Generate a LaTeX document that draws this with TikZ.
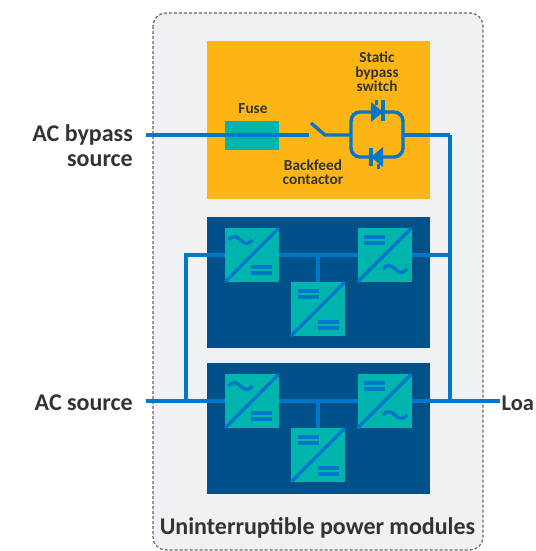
\documentclass[tikz,border=0pt]{standalone}
\usepackage{fontspec}
\setmainfont{Carlito}
\definecolor{panelgray}{HTML}{F0F1F4}
\definecolor{bypassyellow}{HTML}{FDB515}
\definecolor{moduleblue}{HTML}{00508A}
\definecolor{convteal}{HTML}{00B5AD}
\definecolor{wireblue}{HTML}{0077C8}
\definecolor{labeldark}{HTML}{333333}
\newcommand{\acsym}[2]{\draw[symbol,shift={(#1,#2)}] (-12,0) .. controls (-8,-5) and (-4,-4) .. (0,0) .. controls (4,4) and (8,5) .. (12,0);}
\newcommand{\dcsym}[2]{\draw[bar] (#1-10.5,#2-3) -- (#1+10.5,#2-3); \draw[bar] (#1-10.5,#2+3) -- (#1+10.5,#2+3);}
\tikzset{
  wire/.style={draw=wireblue,line width=3.4pt},
  symbol/.style={draw=wireblue,line width=3.4pt},
  bar/.style={draw=wireblue,line width=3.2pt},
  conv/.style={fill=convteal,minimum size=54pt,inner sep=0pt,outer sep=0pt},
  block/.style={inner sep=0pt,outer sep=0pt},
  small label/.style={font=\bfseries\fontsize{15.3}{14.5}\selectfont,text=labeldark,align=center},
  big label/.style={font=\bfseries\fontsize{24}{25}\selectfont,text=labeldark,inner sep=0pt}
}
\begin{document}
\begin{tikzpicture}[x=1pt,y=-1pt]
    \useasboundingbox (0,0) rectangle (535,551);

    \draw[fill=panelgray,draw=black!60,line width=1.2pt,dash pattern=on 3pt off 2pt,rounded corners=13pt] (153,13) rectangle (483,550);
    \node[block,fill=bypassyellow,minimum width=223pt,minimum height=158pt] (bypass) at (318.5,120) {};
    \node[block,fill=moduleblue,minimum width=223pt,minimum height=131pt] (topmod) at (318.5,282.5) {};
    \node[block,fill=moduleblue,minimum width=223pt,minimum height=131pt] (botmod) at (318.5,428.5) {};
    \node[block,fill=convteal,minimum width=54pt,minimum height=29pt] (fuse) at (252,135.5) {};

    % labels
    \node[big label,anchor=east] (acbypass) at (133,135) {AC bypass};
    \node[big label,anchor=east] (bypasssrc) at (133,161) {source};
    \node[big label,anchor=east] (acsource) at (133,403) {AC source};
    \node[big label,anchor=west,font=\bfseries\fontsize{22.5}{25}\selectfont] (load) at (501.5,403) {Loa};
    \node[big label] (upm) at (317.5,528) {Uninterruptible power modules};
    \node[small label] (fuselabel) at (253,109) {Fuse};
    \node[small label] (switchlabel) at (377,72) {Static\\bypass\\switch};
    \node[small label] (contactorlabel) at (313,172) {Backfeed\\contactor};

    % bypass path
    \coordinate (bypassin) at (146,135);
    \coordinate (bladeend) at (309,135);
    \coordinate (hinge) at (325,135);
    \coordinate (bladetip) at (311,123);
    \coordinate (loopin) at (351,135);
    \coordinate (loopout) at (403,135);
    \coordinate (busright) at (450,135);
    \draw[wire] (bypassin) -- (bladeend);
    \draw[wire] (bladetip) -- (hinge) -- (loopin);
    \draw[wire,rounded corners=9pt] (351,112) rectangle (403,157);
    \draw[wire] (loopout) -- (busright);

    % static switch
    \fill[wireblue] (371,102) -- (383,112) -- (371,122) -- cycle;
    \draw[bar] (383,100) -- (383,121);
    \draw[wireblue,line width=3pt] (376,100) -- (376,105);
    \fill[wireblue] (383,147) -- (371,157) -- (383,167) -- cycle;
    \draw[bar] (371,148) -- (371,166);
    \draw[wireblue,line width=3pt] (378,164) -- (378,169);

    % the two modules
    \foreach \m/\y in {t/255,b/401}{
        \node[conv] (\m rect) at (252,\y) {};
        \node[conv] (\m inv) at (384.5,\y) {};
        \node[conv] (\m dc) at (318,\y+54) {};
        \coordinate (\m tee) at (\m dc.north |- \m rect.east);
        \draw[wire] (\m rect.east) -- (\m inv.west);
        \draw[wire] (\m tee) -- (\m dc.north);
        \draw[symbol] (\m rect.south west) -- (\m rect.north east);
        \draw[symbol] (\m inv.south west) -- (\m inv.north east);
        \draw[symbol] (\m dc.south west) -- (\m dc.north east);
        \acsym{240.5}{\y-15}
        \dcsym{261.5}{\y+15}
        \dcsym{374.5}{\y-15}
        \acsym{395}{\y+14}
        \dcsym{308}{\y+39}
        \dcsym{328}{\y+70}
    }

    % buses
    \coordinate (busleft) at (186,255);
    \coordinate (acin) at (146,401);
    \coordinate (loadend) at (500,401);
    \draw[wire] (trect.west) -- (busleft) -- (busleft |- brect.west);
    \draw[wire] (acin) -- (brect.west);
    \draw[wire] (tinv.east) -- (busright |- tinv.east);
    \draw[wire] (binv.east) -- (loadend);
    \draw[wire] (busright) -- (busright |- binv.east);
\end{tikzpicture}
\end{document}
